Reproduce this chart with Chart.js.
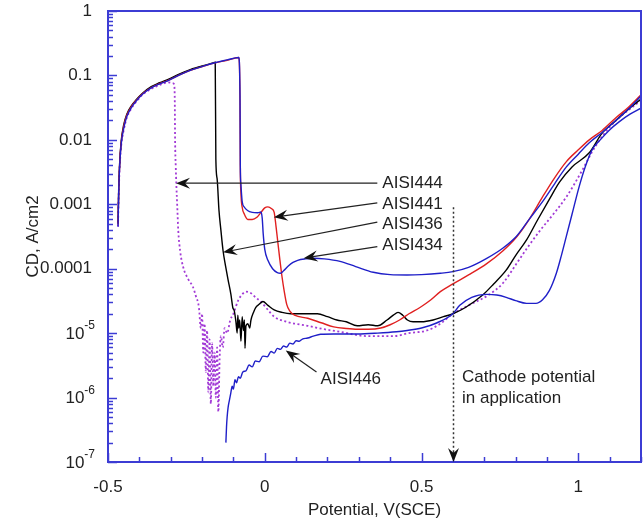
<!DOCTYPE html>
<html>
<head>
<meta charset="utf-8">
<script src="https://cdn.jsdelivr.net/npm/chart.js@4.4.1/dist/chart.umd.min.js"></script>
<style>
  html, body { margin: 0; padding: 0; background: #fff; }
</style>
</head>
<body>
<canvas id="chart" width="644" height="523"></canvas>
<script>
// Polarisation curves, potential (V vs SCE) against current density (A/cm2)

var aisi436V = [-0.468, -0.466, -0.463, -0.458, -0.45, -0.44, -0.425, -0.41, -0.39, -0.362, -0.335, -0.308, -0.275, -0.244, -0.2, -0.165, -0.158, -0.156, -0.152, -0.146, -0.14, -0.133, -0.125, -0.117, -0.108, -0.102, -0.097, -0.092, -0.088, -0.086, -0.083, -0.08, -0.076, -0.072, -0.068, -0.065, -0.063, -0.06, -0.054, -0.048, -0.044, -0.036, -0.029, -0.018, -0.006, 0.01, 0.03, 0.055, 0.083, 0.12, 0.168, 0.2, 0.23, 0.26, 0.295, 0.33, 0.36, 0.39, 0.41, 0.425, 0.44, 0.455, 0.473, 0.5, 0.537, 0.57, 0.6, 0.64, 0.695, 0.73, 0.77, 0.8, 0.835, 0.87, 0.908, 0.94, 0.98, 1.035, 1.076, 1.12, 1.16, 1.2];
var aisi436CD = [5e-4, 1.6e-3, 4.2e-3, 9.5e-3, 1.7e-2, 2.5e-2, 3.4e-2, 4.2e-2, 5.3e-2, 6.7e-2, 7.7e-2, 8.7e-2, 1.04e-1, 1.2e-1, 1.4e-1, 1.57e-1, 1.6e-1, 5e-3, 2.5e-3, 8e-4, 4e-4, 1.9e-4, 1.1e-4, 6.7e-5, 4e-5, 2.5e-5, 2.2e-5, 1.5e-5, 1e-5, 1.9e-5, 1.2e-5, 1.6e-5, 7.5e-6, 1.8e-5, 1.1e-5, 1.6e-5, 5.8e-6, 1.3e-5, 1.4e-5, 1.2e-5, 1.6e-5, 2.1e-5, 2.5e-5, 2.8e-5, 3.1e-5, 2.7e-5, 2.3e-5, 2.1e-5, 2e-5, 2e-5, 2e-5, 1.8e-5, 1.6e-5, 1.5e-5, 1.3e-5, 1.35e-5, 1.3e-5, 1.6e-5, 1.9e-5, 2.1e-5, 1.9e-5, 1.6e-5, 1.5e-5, 1.5e-5, 1.6e-5, 1.8e-5, 2e-5, 2.5e-5, 3.9e-5, 5.8e-5, 9.5e-5, 1.6e-4, 2.8e-4, 5.7e-4, 1.2e-3, 2.2e-3, 3.8e-3, 6.3e-3, 1.27e-2, 2e-2, 3e-2, 4.3e-2];

var aisi441V = [-0.468, -0.466, -0.463, -0.458, -0.45, -0.44, -0.425, -0.41, -0.39, -0.362, -0.335, -0.308, -0.275, -0.244, -0.2, -0.162, -0.12, -0.083, -0.079, -0.078, -0.076, -0.072, -0.065, -0.054, -0.04, -0.025, -0.012, 0.0, 0.01, 0.022, 0.03, 0.036, 0.042, 0.048, 0.055, 0.062, 0.07, 0.08, 0.095, 0.137, 0.18, 0.22, 0.26, 0.295, 0.33, 0.37, 0.4, 0.43, 0.46, 0.495, 0.53, 0.56, 0.6, 0.65, 0.708, 0.76, 0.803, 0.845, 0.886, 0.925, 0.962, 1.0, 1.035, 1.076, 1.12, 1.16, 1.2];
var aisi441CD = [4.8e-4, 1.5e-3, 4e-3, 9e-3, 1.6e-2, 2.4e-2, 3.3e-2, 4.1e-2, 5.2e-2, 6.5e-2, 7.5e-2, 8.4e-2, 1e-1, 1.17e-1, 1.37e-1, 1.55e-1, 1.72e-1, 1.9e-1, 4e-2, 4e-3, 1.5e-3, 9e-4, 7e-4, 5.8e-4, 5.8e-4, 6.3e-4, 7.5e-4, 8.8e-4, 9.1e-4, 8.5e-4, 7.5e-4, 4.5e-4, 2.5e-4, 1.4e-4, 7.5e-5, 4.5e-5, 2.8e-5, 2.2e-5, 1.9e-5, 1.7e-5, 1.45e-5, 1.25e-5, 1.18e-5, 1.15e-5, 1.15e-5, 1.2e-5, 1.35e-5, 1.6e-5, 2e-5, 2.5e-5, 3.3e-5, 4.4e-5, 5.8e-5, 8e-5, 1.2e-4, 1.9e-4, 3.1e-4, 6e-4, 1.3e-3, 2.6e-3, 4.6e-3, 7e-3, 1e-2, 1.4e-2, 2.2e-2, 3.2e-2, 5e-2];

var aisi434V = [-0.468, -0.466, -0.463, -0.458, -0.45, -0.44, -0.425, -0.41, -0.39, -0.362, -0.335, -0.308, -0.275, -0.244, -0.2, -0.162, -0.12, -0.083, -0.079, -0.078, -0.076, -0.072, -0.065, -0.055, -0.04, -0.022, -0.012, -0.008, -0.005, 0.0, 0.01, 0.025, 0.04, 0.05, 0.06, 0.075, 0.09, 0.105, 0.13, 0.155, 0.19, 0.24, 0.29, 0.346, 0.4, 0.454, 0.5, 0.56, 0.6, 0.65, 0.708, 0.76, 0.803, 0.845, 0.886, 0.925, 0.962, 1.0, 1.035, 1.076, 1.12, 1.16, 1.2];
var aisi434CD = [4.5e-4, 1.4e-3, 3.8e-3, 8.5e-3, 1.5e-2, 2.3e-2, 3.2e-2, 4e-2, 5.1e-2, 6.4e-2, 7.4e-2, 8.3e-2, 1e-1, 1.17e-1, 1.37e-1, 1.56e-1, 1.74e-1, 1.9e-1, 5e-2, 4e-3, 2e-3, 1.1e-3, 9e-4, 8e-4, 7.5e-4, 7.4e-4, 7.6e-4, 6e-4, 3.5e-4, 2e-4, 1.35e-4, 1e-4, 8.7e-5, 8.5e-5, 9.3e-5, 1.1e-4, 1.25e-4, 1.35e-4, 1.42e-4, 1.45e-4, 1.42e-4, 1.3e-4, 1.08e-4, 8.8e-5, 8.1e-5, 8e-5, 8.1e-5, 8.5e-5, 9e-5, 1.05e-4, 1.45e-4, 2.1e-4, 3.2e-4, 6e-4, 1.1e-3, 2.1e-3, 3.8e-3, 6e-3, 9e-3, 1.3e-2, 2e-2, 3e-2, 4.8e-2];

var aisi446V = [-0.124, -0.122, -0.12, -0.117, -0.113, -0.108, -0.104, -0.1, -0.095, -0.09, -0.084, -0.078, -0.07, -0.06, -0.05, -0.04, -0.03, -0.018, -0.006, 0.008, 0.02, 0.03, 0.04, 0.05, 0.06, 0.07, 0.08, 0.09, 0.1, 0.11, 0.12, 0.137, 0.155, 0.178, 0.22, 0.295, 0.36, 0.42, 0.454, 0.5, 0.55, 0.6, 0.622, 0.66, 0.708, 0.74, 0.77, 0.8, 0.835, 0.865, 0.886, 0.908, 0.93, 0.946, 0.962, 0.98, 1.003, 1.022, 1.044, 1.07, 1.098, 1.13, 1.165, 1.2];
var aisi446CD = [2e-7, 3.5e-7, 5e-7, 7e-7, 9e-7, 1.2e-6, 1.5e-6, 1.35e-6, 1.9e-6, 1.7e-6, 2.1e-6, 2e-6, 2.5e-6, 2.6e-6, 3.2e-6, 3e-6, 3.7e-6, 3.6e-6, 4.4e-6, 4.3e-6, 5.2e-6, 4.9e-6, 5.8e-6, 5.6e-6, 6.3e-6, 6.1e-6, 7e-6, 6.8e-6, 7.6e-6, 7.5e-6, 8.1e-6, 8.4e-6, 9e-6, 9.6e-6, 9.7e-6, 9.7e-6, 1e-5, 1.05e-5, 1.1e-5, 1.2e-5, 1.45e-5, 2e-5, 2.7e-5, 3.6e-5, 4e-5, 3.9e-5, 3.6e-5, 3.2e-5, 2.9e-5, 2.9e-5, 3.3e-5, 4.6e-5, 8.5e-5, 1.6e-4, 3.2e-4, 7e-4, 1.9e-3, 3.8e-3, 7e-3, 1e-2, 1.4e-2, 1.9e-2, 2.5e-2, 3.1e-2];

var aisi444V = [-0.468, -0.466, -0.463, -0.458, -0.45, -0.44, -0.425, -0.41, -0.39, -0.362, -0.335, -0.308, -0.295, -0.289, -0.287, -0.286, -0.284, -0.282, -0.279, -0.276, -0.27, -0.26, -0.245, -0.229, -0.22, -0.21, -0.204, -0.2, -0.196, -0.192, -0.188, -0.184, -0.18, -0.176, -0.172, -0.168, -0.164, -0.16, -0.156, -0.152, -0.148, -0.144, -0.14, -0.134, -0.128, -0.12, -0.11, -0.1, -0.085, -0.07, -0.06, -0.045, -0.03, -0.013, 0.01, 0.03, 0.07, 0.137, 0.19, 0.24, 0.327, 0.41, 0.46, 0.517, 0.56, 0.6, 0.65, 0.717, 0.76, 0.803, 0.84, 0.876, 0.92, 0.962, 1.013, 1.044, 1.08, 1.12, 1.16, 1.2];
var aisi444CD = [4.5e-4, 1.3e-3, 3.5e-3, 8e-3, 1.4e-2, 2.2e-2, 3.1e-2, 3.9e-2, 5e-2, 6.2e-2, 7.1e-2, 7.8e-2, 7.6e-2, 7.3e-2, 4e-2, 1e-2, 4e-3, 2e-3, 9e-4, 4e-4, 1.9e-4, 1.05e-4, 7e-5, 5.2e-5, 3.8e-5, 2.5e-5, 1.2e-5, 2e-5, 5e-6, 1.4e-5, 2.5e-6, 1.1e-5, 1.2e-6, 8e-6, 8e-7, 7e-6, 1.5e-6, 5e-6, 1e-6, 6e-6, 6e-7, 4e-6, 9e-6, 6e-6, 1.2e-5, 1e-5, 1.6e-5, 2e-5, 3.2e-5, 4.1e-5, 4.4e-5, 4.2e-5, 3.6e-5, 3.1e-5, 2.3e-5, 1.8e-5, 1.5e-5, 1.3e-5, 1.15e-5, 1.05e-5, 9e-6, 9e-6, 1e-5, 1.1e-5, 1.4e-5, 2e-5, 2.7e-5, 4e-5, 6e-5, 1.2e-4, 2.2e-4, 3.8e-4, 7e-4, 1.3e-3, 3.4e-3, 6.5e-3, 1.2e-2, 2e-2, 2.9e-2, 4.1e-2];

// axis ticks
var xTickValues = [-0.5, -0.4, -0.3, -0.2, -0.1, 0, 0.1, 0.2, 0.3, 0.4, 0.5, 0.6, 0.7, 0.8, 0.9, 1.0, 1.1, 1.2];
var xMajorTicks = [-0.5, 0, 0.5, 1];
var xTickLabels = ['-0.5', '0', '0.5', '1'];
var yMajorTicks = [1, 0.1, 0.01, 0.001, 0.0001, 1e-5, 1e-6, 1e-7];
var yTickLabels = ['1', '0.1', '0.01', '0.001', '0.0001', ['10', '-5'], ['10', '-6'], ['10', '-7']];

// arrow labels (text anchor, line tail, arrow tip) in data units
var noteLabels = ['AISI444', 'AISI441', 'AISI436', 'AISI434', 'AISI446'];
var noteTextV = [0.375, 0.375, 0.375, 0.375, 0.178];
var noteTextCD = [2.13e-3, 1.0e-3, 4.9e-4, 2.3e-4, 1.93e-6];
var noteTailV = [0.359, 0.359, 0.359, 0.359, 0.165];
var noteTailCD = [2.13e-3, 1.05e-3, 5.3e-4, 2.2e-4, 2.5e-6];
var noteTipV = [-0.283, 0.029, -0.133, 0.124, 0.067];
var noteTipCD = [2.13e-3, 6.3e-4, 1.8e-4, 1.46e-4, 5.4e-6];

var cathodeV = 0.6;
var cathodeTopCD = 9e-4;
var cathodeText = ['Cathode potential', 'in application'];
var cathodeTextV = 0.629;
var cathodeTextCD = [2.07e-6, 9.8e-7];

var axisBlue = '#3c3cd4';
var fontFamily = '"Liberation Sans", Arial, Helvetica, sans-serif';

function toPoints(vs, cds) {
  return vs.map(function (v, i) { return { x: v, y: cds[i] }; });
}

function isXMajor(v) {
  return xMajorTicks.some(function (m) { return Math.abs(m - v) < 1e-6; });
}

function yMajorIndex(v) {
  for (var i = 0; i < yMajorTicks.length; i++) {
    if (Math.abs(Math.log10(v) - Math.log10(yMajorTicks[i])) < 1e-6) return i;
  }
  return -1;
}

function drawArrow(ctx, x0, y0, x1, y1) {
  var a = Math.atan2(y1 - y0, x1 - x0);
  var c = Math.cos(a), s = Math.sin(a);
  ctx.beginPath();
  ctx.moveTo(x0, y0);
  ctx.lineTo(x1 - c * 8, y1 - s * 8);
  ctx.stroke();
  var L = 14, W = 5.5, N = 9;
  ctx.beginPath();
  ctx.moveTo(x1, y1);
  ctx.lineTo(x1 - L * c + W * s, y1 - L * s - W * c);
  ctx.lineTo(x1 - N * c, y1 - N * s);
  ctx.lineTo(x1 - L * c - W * s, y1 - L * s + W * c);
  ctx.closePath();
  ctx.fill();
}

var decorations = {
  id: 'decorations',
  afterDraw: function (chart) {
    var ctx = chart.ctx, area = chart.chartArea;
    var xs = chart.scales.x, ys = chart.scales.y;
    ctx.save();

    // inside tick marks
    ctx.strokeStyle = axisBlue;
    ctx.lineWidth = 1.5;
    xs.ticks.forEach(function (t) {
      var px = Math.round(xs.getPixelForValue(t.value)) + 0.5;
      var len = isXMajor(t.value) ? 9 : 5;
      ctx.beginPath();
      ctx.moveTo(px, area.bottom);
      ctx.lineTo(px, area.bottom - len);
      ctx.stroke();
    });
    ys.ticks.forEach(function (t) {
      var py = Math.round(ys.getPixelForValue(t.value)) + 0.5;
      var len = yMajorIndex(t.value) >= 0 ? 9 : 5;
      ctx.beginPath();
      ctx.moveTo(area.left, py);
      ctx.lineTo(area.left + len, py);
      ctx.stroke();
    });

    // frame
    ctx.lineWidth = 2;
    ctx.strokeRect(area.left, area.top, area.right - area.left, area.bottom - area.top);

    // powers of ten with superscript
    ctx.fillStyle = '#222';
    ctx.textBaseline = 'middle';
    yTickLabels.forEach(function (lab, i) {
      if (!Array.isArray(lab)) return;
      var py = ys.getPixelForValue(yMajorTicks[i]);
      ctx.font = '12px ' + fontFamily;
      ctx.textAlign = 'right';
      var supW = ctx.measureText(lab[1]).width;
      ctx.fillText(lab[1], 95, py - 7);
      ctx.font = '17px ' + fontFamily;
      ctx.fillText(lab[0], 95 - supW, py + 1);
    });

    // arrows with labels
    ctx.strokeStyle = '#222';
    ctx.fillStyle = '#111';
    ctx.lineWidth = 1.2;
    noteLabels.forEach(function (lab, i) {
      var x0 = xs.getPixelForValue(noteTailV[i]), y0 = ys.getPixelForValue(noteTailCD[i]);
      var x1 = xs.getPixelForValue(noteTipV[i]), y1 = ys.getPixelForValue(noteTipCD[i]);
      drawArrow(ctx, x0, y0, x1, y1);
    });
    ctx.fillStyle = '#222';
    ctx.font = '17px ' + fontFamily;
    ctx.textAlign = 'left';
    noteLabels.forEach(function (lab, i) {
      ctx.fillText(lab, xs.getPixelForValue(noteTextV[i]), ys.getPixelForValue(noteTextCD[i]));
    });

    // cathode potential marker
    var cx = Math.round(xs.getPixelForValue(cathodeV)) + 0.5;
    var cTop = ys.getPixelForValue(cathodeTopCD);
    ctx.strokeStyle = '#333';
    ctx.lineWidth = 1.5;
    ctx.setLineDash([2, 2.5]);
    ctx.beginPath();
    ctx.moveTo(cx, cTop);
    ctx.lineTo(cx, area.bottom - 8);
    ctx.stroke();
    ctx.setLineDash([]);
    ctx.fillStyle = '#111';
    drawArrow(ctx, cx, area.bottom - 10, cx, area.bottom);
    ctx.fillStyle = '#222';
    cathodeText.forEach(function (txt, i) {
      ctx.fillText(txt, xs.getPixelForValue(cathodeTextV), ys.getPixelForValue(cathodeTextCD[i]));
    });

    ctx.restore();
  }
};

function lineSet(label, vs, cds, color, width, dash) {
  return {
    label: label,
    data: toPoints(vs, cds),
    borderColor: color,
    backgroundColor: color,
    borderWidth: width,
    borderDash: dash || [],
    pointRadius: 0,
    fill: false,
    cubicInterpolationMode: 'monotone'
  };
}

var ctx = document.getElementById('chart').getContext('2d');

var chart = new Chart(ctx, {
  type: 'line',
  data: {
    datasets: [
      lineSet('AISI446', aisi446V, aisi446CD, '#1f1fc8', 1.4),
      lineSet('AISI434', aisi434V, aisi434CD, '#1f1fc8', 1.4),
      lineSet('AISI441', aisi441V, aisi441CD, '#e02020', 1.4),
      lineSet('AISI436', aisi436V, aisi436CD, '#000000', 1.4),
      lineSet('AISI444', aisi444V, aisi444CD, '#a23ad6', 1.8, [2, 2.5])
    ]
  },
  options: {
    responsive: false,
    animation: false,
    layout: { padding: { top: 11, right: 3, left: 0, bottom: 0 } },
    plugins: {
      legend: { display: false },
      tooltip: { enabled: false }
    },
    scales: {
      x: {
        type: 'linear',
        min: -0.5,
        max: 1.2,
        grid: { display: false, drawTicks: false },
        border: { display: false },
        afterBuildTicks: function (scale) {
          scale.ticks = xTickValues.map(function (v) { return { value: v }; });
        },
        afterFit: function (scale) {
          scale.height = 61;
          scale.paddingLeft = 0;
          scale.paddingRight = 0;
        },
        ticks: {
          autoSkip: false,
          maxRotation: 0,
          padding: 15,
          color: '#222',
          font: { size: 17, family: fontFamily },
          callback: function (value) {
            for (var i = 0; i < xMajorTicks.length; i++) {
              if (Math.abs(xMajorTicks[i] - value) < 1e-6) return xTickLabels[i];
            }
            return '';
          }
        },
        title: {
          display: true,
          text: 'Potential, V(SCE)',
          color: '#222',
          font: { size: 17, family: fontFamily },
          padding: { top: 0, bottom: 2 }
        }
      },
      y: {
        type: 'logarithmic',
        min: 1e-7,
        max: 1,
        grid: { display: false, drawTicks: false },
        border: { display: false },
        afterBuildTicks: function (scale) {
          var vals = [];
          for (var e = -7; e <= 0; e++) {
            for (var m = 1; m <= 9; m++) {
              var v = m * Math.pow(10, e);
              if (v <= 1.0000001) vals.push(v);
            }
          }
          scale.ticks = vals.map(function (v) { return { value: v }; });
        },
        afterFit: function (scale) {
          scale.width = 108;
          scale.paddingTop = 0;
          scale.paddingBottom = 0;
        },
        ticks: {
          autoSkip: false,
          padding: 16,
          color: '#222',
          font: { size: 17, family: fontFamily },
          callback: function (value) {
            var i = yMajorIndex(value);
            if (i < 0 || Array.isArray(yTickLabels[i])) return '';
            return yTickLabels[i];
          }
        },
        title: {
          display: true,
          text: 'CD, A/cm2',
          color: '#222',
          font: { size: 17, family: fontFamily },
          padding: { top: 23, bottom: 0 }
        }
      }
    }
  },
  plugins: [decorations]
});
</script>
</body>
</html>
